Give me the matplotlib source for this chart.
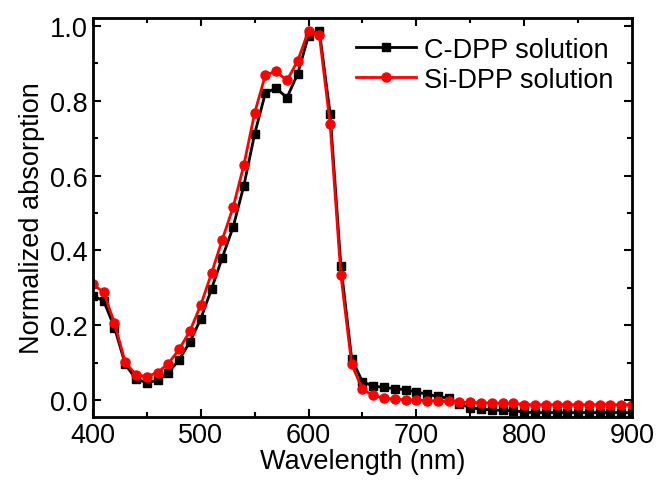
import numpy as np
import matplotlib
matplotlib.use("Agg")
import matplotlib.pyplot as plt
from matplotlib.ticker import MultipleLocator

plt.rcParams['font.family'] = ['Liberation Sans', 'DejaVu Sans']

# wavelength grid (nm), one point every 10 nm
wavelength = list(range(400, 901, 10))

# C-DPP solution (black squares)
c_dpp = [0.279, 0.265, 0.194, 0.096, 0.056, 0.047, 0.053, 0.074, 0.108, 0.156,
         0.217, 0.297, 0.381, 0.462, 0.573, 0.711, 0.821, 0.833, 0.808, 0.872,
         0.974, 0.987, 0.765, 0.359, 0.111, 0.049, 0.038, 0.034, 0.031, 0.028,
         0.022, 0.016, 0.010, 0.005, -0.010, -0.020, -0.024, -0.026, -0.027, -0.028,
         -0.032, -0.033, -0.033, -0.033, -0.033, -0.033, -0.033, -0.033, -0.033, -0.033,
         -0.033]

# Si-DPP solution (red circles)
si_dpp = [0.310, 0.288, 0.206, 0.101, 0.068, 0.063, 0.074, 0.098, 0.136, 0.185,
          0.254, 0.339, 0.429, 0.515, 0.628, 0.767, 0.869, 0.878, 0.854, 0.907,
          0.987, 0.976, 0.738, 0.334, 0.096, 0.029, 0.013, 0.005, 0.003, 0.001,
          0.000, -0.001, -0.002, -0.003, -0.005, -0.006, -0.007, -0.007, -0.008, -0.008,
          -0.012, -0.012, -0.012, -0.012, -0.012, -0.012, -0.012, -0.012, -0.012, -0.012,
          -0.012]

fig = plt.figure(figsize=(6.59, 4.85), dpi=100)
ax = fig.add_axes([0.141, 0.138, 0.818, 0.823])

ax.plot(wavelength, c_dpp, color='black', lw=2, marker='s', ms=5.5,
        label='C-DPP solution')
ax.plot(wavelength, si_dpp, color='#ff0000', lw=2, marker='o', ms=6.5,
        label='Si-DPP solution')

ax.set_xlim(400, 900)
ax.set_ylim(-0.045, 1.021)
ax.xaxis.set_major_locator(MultipleLocator(100))
ax.xaxis.set_minor_locator(MultipleLocator(50))
ax.yaxis.set_major_locator(MultipleLocator(0.2))
ax.yaxis.set_minor_locator(MultipleLocator(0.1))
ax.yaxis.set_major_formatter(plt.FuncFormatter(lambda v, p: f'{v:.1f}'))

ax.tick_params(which='both', direction='in', top=True, right=True, width=1.5,
               labelsize=19.5)
ax.tick_params(which='major', length=6)
ax.tick_params(which='minor', length=3.5)
for s in ax.spines.values():
    s.set_linewidth(2)

ax.set_xlabel('Wavelength (nm)', fontsize=19.5, labelpad=0)
ax.set_ylabel('Normalized absorption', fontsize=19.5, labelpad=4)

ax.legend(loc='upper right', frameon=False, fontsize=19.5, handlelength=2.2,
          handletextpad=0.3, labelspacing=0.15, borderaxespad=0.3)

fig.savefig('out.png', dpi=100)
